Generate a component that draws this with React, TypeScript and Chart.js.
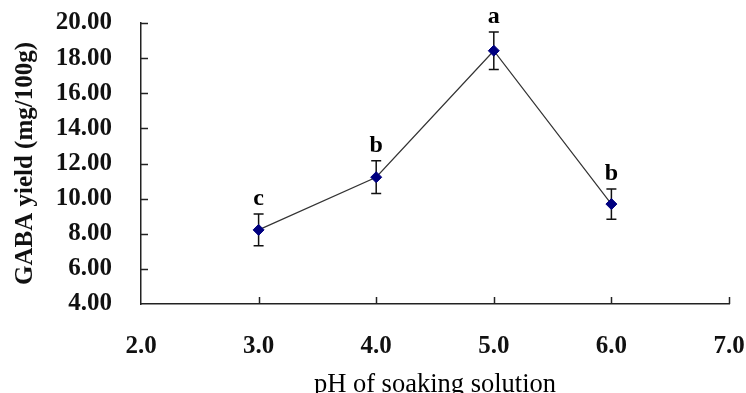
import React, { useEffect, useRef } from "react";
import { Chart, registerables } from "chart.js";

Chart.register(...registerables);

const phValues = [3, 4, 5, 6];
const gabaYield = [8.22, 11.22, 18.42, 9.69];
const errorValues = [0.91, 0.93, 1.07, 0.86];
const sigLetters = ["c", "b", "a", "b"];
const xTickValues = [3, 4, 5, 6, 7];
const yTickValues = [6, 8, 10, 12, 14, 16, 18, 20];
const xTitle = "pH of soaking solution";
const yTitle = "GABA yield (mg/100g)";

const SERIF = '"Liberation Serif", "Times New Roman", serif';

const annotPlugin = {
  id: "annot",
  beforeDatasetsDraw(chart: any) {
    const ctx = chart.ctx;
    const xs = chart.scales.x;
    const ys = chart.scales.y;
    ctx.save();
    ctx.strokeStyle = "#111";
    ctx.lineWidth = 1.5;
    phValues.forEach((p, i) => {
      const px = xs.getPixelForValue(p);
      const top = ys.getPixelForValue(gabaYield[i] + errorValues[i]);
      const bot = ys.getPixelForValue(gabaYield[i] - errorValues[i]);
      ctx.beginPath();
      ctx.moveTo(px, top);
      ctx.lineTo(px, bot);
      ctx.moveTo(px - 5, top);
      ctx.lineTo(px + 5, top);
      ctx.moveTo(px - 5, bot);
      ctx.lineTo(px + 5, bot);
      ctx.stroke();
    });
    // inward tick marks
    ctx.strokeStyle = "#222";
    ctx.lineWidth = 1.5;
    const left = chart.chartArea.left;
    const bottom = chart.chartArea.bottom;
    yTickValues.forEach((v) => {
      const py = Math.round(ys.getPixelForValue(v)) + 0.5;
      ctx.beginPath();
      ctx.moveTo(left, py);
      ctx.lineTo(left + 7, py);
      ctx.stroke();
    });
    xTickValues.forEach((v) => {
      const px = Math.round(xs.getPixelForValue(v)) + 0.5;
      ctx.beginPath();
      ctx.moveTo(px, bottom);
      ctx.lineTo(px, bottom - 7);
      ctx.stroke();
    });
    ctx.restore();
  },
  afterDatasetsDraw(chart: any) {
    const ctx = chart.ctx;
    const xs = chart.scales.x;
    const ys = chart.scales.y;
    ctx.save();
    ctx.fillStyle = "#000";
    ctx.font = `bold 24px ${SERIF}`;
    ctx.textAlign = "center";
    ctx.textBaseline = "alphabetic";
    phValues.forEach((p, i) => {
      const px = xs.getPixelForValue(p);
      const top = ys.getPixelForValue(gabaYield[i] + errorValues[i]);
      ctx.fillText(sigLetters[i], px, top - 9);
    });
    ctx.restore();
  },
};

export default function App() {
  const ref = useRef<HTMLCanvasElement>(null);
  useEffect(() => {
    if (!ref.current) return;
    const chart = new Chart(ref.current, {
      type: "line",
      data: {
        datasets: [
          {
            data: phValues.map((p, i) => ({ x: p, y: gabaYield[i] })),
            borderColor: "#333",
            borderWidth: 1.2,
            pointStyle: "rectRot",
            pointRadius: 5.5,
            pointBackgroundColor: "#000080",
            pointBorderColor: "#000080",
            pointBorderWidth: 1,
            tension: 0,
          },
        ],
      },
      options: {
        responsive: false,
        animation: false,
        events: [],
        layout: { autoPadding: false, padding: { left: 0, top: 23, right: 17, bottom: 0 } },
        plugins: { legend: { display: false }, tooltip: { enabled: false } },
        scales: {
          x: {
            type: "linear",
            min: 2,
            max: 7,
            afterFit: (s: any) => {
              s.height = 89;
              s.paddingLeft = 0;
              s.paddingRight = 0;
              s.paddingTop = 0;
              s.paddingBottom = 0;
            },
            afterBuildTicks: (s: any) => {
              s.ticks = [2, ...xTickValues].map((v) => ({ value: v }));
            },
            grid: { display: false, drawTicks: false },
            border: { display: true, color: "#222", width: 1.5 },
            ticks: {
              padding: 28,
              color: "#111",
              font: { family: SERIF, size: 25, weight: "bold" },
              callback: (v: any) => Number(v).toFixed(1),
            },
            title: {
              display: true,
              text: xTitle,
              color: "#000",
              font: { family: SERIF, size: 26.5, weight: "normal", lineHeight: 1 },
              padding: { top: 0, bottom: -5 },
            },
          },
          y: {
            type: "linear",
            min: 4,
            max: 20,
            afterFit: (s: any) => {
              s.width = 141;
              s.paddingLeft = 0;
              s.paddingRight = 0;
              s.paddingTop = 0;
              s.paddingBottom = 0;
            },
            afterBuildTicks: (s: any) => {
              s.ticks = [4, ...yTickValues].map((v) => ({ value: v }));
            },
            grid: { display: false, drawTicks: false },
            border: { display: true, color: "#222", width: 1.5 },
            ticks: {
              padding: 29,
              color: "#111",
              font: { family: SERIF, size: 25, weight: "bold" },
              callback: (v: any) => Number(v).toFixed(2),
            },
            title: {
              display: true,
              text: yTitle,
              color: "#111",
              font: { family: SERIF, size: 25, weight: "bold", lineHeight: 1.2 },
              padding: { top: 11, bottom: 0 },
            },
          },
        },
      },
      plugins: [annotPlugin],
    } as any);
    return () => chart.destroy();
  }, []);
  return (
    <div style={{ position: "absolute", left: 0, top: 0, width: 746, height: 393, background: "#fff" }}>
      <canvas ref={ref} width={746} height={393} />
    </div>
  );
}
